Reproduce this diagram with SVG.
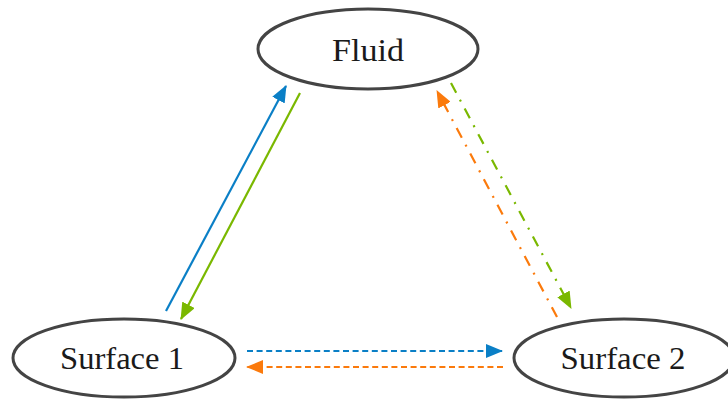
<svg xmlns="http://www.w3.org/2000/svg" width="728" height="400" viewBox="0 0 728 400">
<style>
.node ellipse{fill:#fff;stroke:#444;stroke-width:3}
.node text{font-family:"Liberation Serif","DejaVu Serif",serif;font-size:31px;fill:#1a1a1a;text-anchor:middle}
.c{fill:none;stroke-width:2.2}
.blue{stroke:#0a7fc6}
.green{stroke:#7ab800}
.orange{stroke:#fb7a0c}
.dash{stroke-dasharray:6 3.6}
.dd{stroke-dasharray:11 8 2 8}
</style>
<defs>
<marker id="ab" markerUnits="userSpaceOnUse" markerWidth="17" markerHeight="14" viewBox="0 0 17 14" refX="16" refY="7" orient="auto"><path d="M0,0 L17,7 L0,14 z" fill="#0a7fc6"/></marker>
<marker id="ag" markerUnits="userSpaceOnUse" markerWidth="17" markerHeight="14" viewBox="0 0 17 14" refX="16" refY="7" orient="auto"><path d="M0,0 L17,7 L0,14 z" fill="#7ab800"/></marker>
<marker id="ao" markerUnits="userSpaceOnUse" markerWidth="17" markerHeight="14" viewBox="0 0 17 14" refX="16" refY="7" orient="auto"><path d="M0,0 L17,7 L0,14 z" fill="#fb7a0c"/></marker>
</defs>
<g id="connectors">
<line class="c blue" x1="166" y1="311" x2="286" y2="86" marker-end="url(#ab)"/>
<line class="c green" x1="300" y1="93" x2="181" y2="319" marker-end="url(#ag)"/>
<line class="c green dd" x1="451" y1="83" x2="571" y2="308" marker-end="url(#ag)"/>
<line class="c orange dd" x1="557" y1="317" x2="437" y2="91" marker-end="url(#ao)"/>
<line class="c blue dash" x1="247" y1="351" x2="502" y2="351" marker-end="url(#ab)"/>
<line class="c orange dash" x1="503" y1="367" x2="247" y2="367" marker-end="url(#ao)"/>
</g>
<g id="fluid" class="node">
<ellipse cx="368" cy="49" rx="110" ry="40"/>
<text x="368" y="61" textLength="72" lengthAdjust="spacingAndGlyphs">Fluid</text>
</g>
<g id="surface1" class="node">
<ellipse cx="124" cy="358" rx="111" ry="39"/>
<text x="122" y="369" textLength="124" lengthAdjust="spacingAndGlyphs">Surface 1</text>
</g>
<g id="surface2" class="node">
<ellipse cx="624" cy="358" rx="110" ry="39"/>
<text x="623" y="369" textLength="125" lengthAdjust="spacingAndGlyphs">Surface 2</text>
</g>
</svg>
